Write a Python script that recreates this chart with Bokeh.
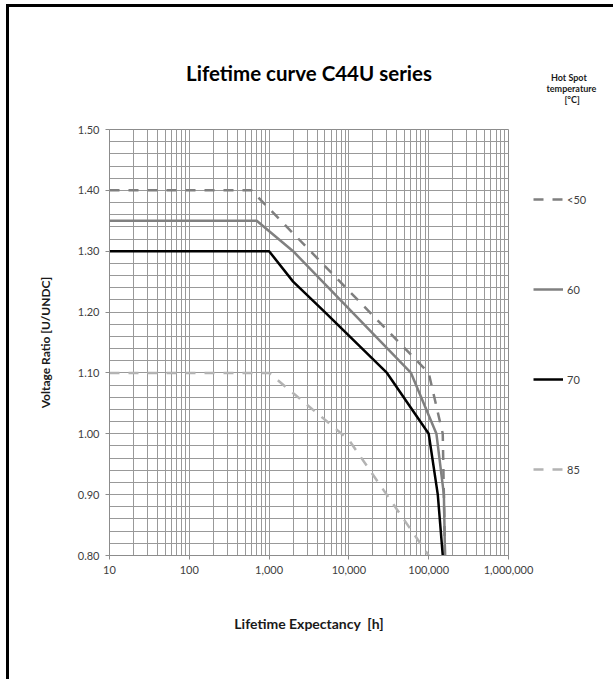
import numpy as np
from bokeh.plotting import figure
from bokeh.models import (FixedTicker, NumeralTickFormatter, Legend, LegendItem, Range1d)
from bokeh.embed import file_html
from bokeh.resources import INLINE

# ---- data ----
series_names = ["<50", "60", "70", "85"]
legend_heading = ["Hot Spot", "temperature", "[°C]"]

hours_lt50 = [10, 600, 100000, 150000, 160000]
ratio_lt50 = [1.40, 1.40, 1.10, 1.00, 0.80]

hours_60 = [10, 700, 2000, 60000, 125000, 155000, 160000]
ratio_60 = [1.35, 1.35, 1.30, 1.10, 1.00, 0.90, 0.80]

hours_70 = [10, 1000, 2000, 5000, 30000, 100000, 130000, 150000]
ratio_70 = [1.30, 1.30, 1.25, 1.20, 1.10, 1.00, 0.90, 0.80]

hours_85 = [10, 1000, 10000, 100000]
ratio_85 = [1.10, 1.10, 0.99, 0.80]

x_ticks = [10, 100, 1000, 10000, 100000, 1000000]
x_minor = [m * 10 ** e for e in range(1, 6) for m in range(2, 10)]
y_ticks = [0.80, 0.90, 1.00, 1.10, 1.20, 1.30, 1.40, 1.50]
y_minor = [round(v, 2) for v in np.arange(0.80, 1.5001, 0.02)]

FONT = "Lato"
GRID = "#999999"

p = figure(frame_width=399, frame_height=426, x_axis_type="log",
           x_range=Range1d(10, 1000000), y_range=Range1d(0.80, 1.50),
           output_backend="svg", toolbar_location=None,
           min_border_left=100, min_border_right=105,
           min_border_top=122, min_border_bottom=124)
p.styles = {"margin-left": "6px", "margin-top": "4px",
            "border-left": "3px solid #000000", "border-top": "3px solid #000000"}

p.title.text = "Lifetime curve C44U series"
p.title.align = "center"
p.title.text_font = FONT
p.title.text_font_size = "20.5px"
p.title.text_font_style = "bold"
p.title.text_color = "#000000"
p.title.standoff = 90

p.outline_line_color = "#8c8c8c"
p.background_fill_color = "white"
p.border_fill_color = "white"

# axes
for ax in (p.xaxis[0], p.yaxis[0]):
    ax.axis_line_color = "#8c8c8c"
    ax.major_tick_line_color = "#8c8c8c"
    ax.major_tick_out = 4
    ax.major_tick_in = 0
    ax.minor_tick_line_color = None
    ax.major_label_text_font = FONT
    ax.major_label_text_font_size = "11px"
    ax.major_label_text_color = "#404040"
    ax.major_label_standoff = 6
    ax.axis_label_text_font = FONT
    ax.axis_label_text_font_style = "bold"
    ax.axis_label_text_color = "#1a1a1a"

p.xaxis.ticker = FixedTicker(ticks=x_ticks, minor_ticks=x_minor)
p.xaxis.formatter = NumeralTickFormatter(format="0,0")
p.yaxis.ticker = FixedTicker(ticks=y_ticks, minor_ticks=y_minor)
p.yaxis.formatter = NumeralTickFormatter(format="0.00")

p.xaxis.axis_label = "Lifetime Expectancy\u00a0 [h]"
p.xaxis.axis_label_text_font_size = "14px"
p.xaxis.axis_label_standoff = 38

p.yaxis.axis_label = "Voltage Ratio [U/UNDC]"
p.yaxis.axis_label_text_font_size = "12px"
p.yaxis.axis_label_standoff = 22

for g in (p.xgrid[0], p.ygrid[0]):
    g.grid_line_color = GRID
    g.grid_line_width = 1
    g.minor_grid_line_color = GRID
    g.minor_grid_line_width = 1

# series
r85 = p.line(hours_85, ratio_85, line_color="#b3b3b3", line_width=2.5, line_dash="10 9")
rlt50 = p.line(hours_lt50, ratio_lt50, line_color="#7f7f7f", line_width=2.5, line_dash="10 9")
r60 = p.line(hours_60, ratio_60, line_color="#808080", line_width=2.5)
r70 = p.line(hours_70, ratio_70, line_color="#000000", line_width=2.5)

# heading lines, visually centred over the legend entries (en-space indent)
EN = "\u2002"
heading_text = "\n".join([EN * 4 + legend_heading[0],
                          EN * 3 + legend_heading[1],
                          EN * 7 + legend_heading[2]])

legend = Legend(items=[LegendItem(label=series_names[0], renderers=[rlt50]),
                       LegendItem(label=series_names[1], renderers=[r60]),
                       LegendItem(label=series_names[2], renderers=[r70]),
                       LegendItem(label=series_names[3], renderers=[r85])],
                location=(25, 76), orientation="vertical",
                title=heading_text,
                title_text_font=FONT, title_text_font_size="9px",
                title_text_font_style="bold", title_text_color="#1a1a1a",
                title_text_line_height=0.85,
                title_standoff=84,
                spacing=70, glyph_width=30, glyph_height=20, label_height=20,
                label_width=40, label_standoff=4, padding=0, margin=0,
                border_line_alpha=0, background_fill_alpha=0,
                label_text_font=FONT, label_text_font_size="11px",
                label_text_color="#404040")
p.add_layout(legend, "right")

open("out.html", "w").write(file_html(p, INLINE))
